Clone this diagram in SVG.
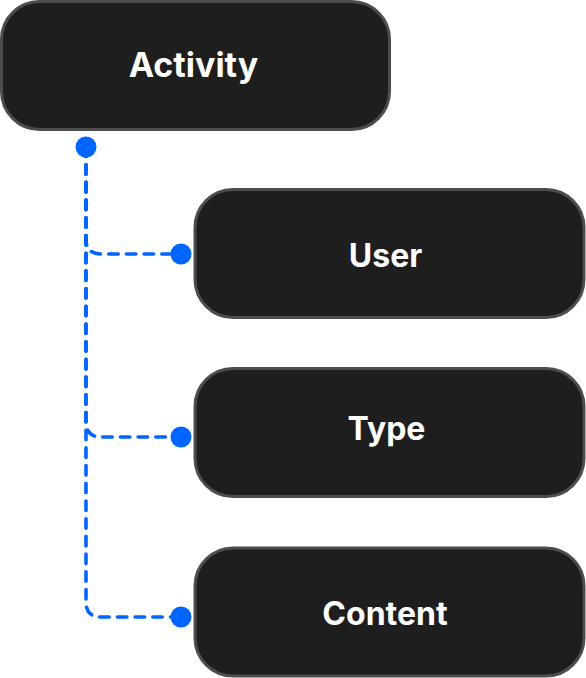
<svg xmlns="http://www.w3.org/2000/svg" width="586" height="678" viewBox="0 0 586 678">
  <style>
    .node rect { fill: #1e1e1e; stroke: #4d4d4d; stroke-width: 3; }
    .node text { fill: #ffffff; font-family: Inter, "Liberation Sans", sans-serif; font-weight: 700; font-size: 32px; text-anchor: middle; }
    .edge { fill: none; stroke: #0066ff; stroke-width: 3.6; stroke-linecap: round; stroke-dasharray: 9.5 8.2; }
    .dot { fill: #0066ff; }
  </style>
  <rect width="586" height="678" fill="#ffffff"/>
  <g id="connectors">
    <path class="edge" d="M86,147 L86,239 Q86,254 101,254 L181,254"/>
    <path class="edge" d="M86,147 L86,422 Q86,437 101,437 L181,437"/>
    <path class="edge" d="M86,147 L86,602 Q86,617 101,617 L181,617"/>
    <circle class="dot" cx="86" cy="147" r="10.5"/>
    <circle class="dot" cx="181" cy="254" r="10.5"/>
    <circle class="dot" cx="181" cy="437" r="10.5"/>
    <circle class="dot" cx="181" cy="617" r="10.5"/>
  </g>
  <g id="node-activity" class="node">
    <rect x="1.5" y="1.5" width="388" height="128" rx="38" ry="38"/>
    <text x="193.5" y="77" style="font-size:34px">Activity</text>
  </g>
  <g id="node-user" class="node">
    <rect x="195" y="189.5" width="389" height="128" rx="38" ry="38"/>
    <text x="385.5" y="267">User</text>
  </g>
  <g id="node-type" class="node">
    <rect x="195" y="368.5" width="389" height="128" rx="38" ry="38"/>
    <text x="386.5" y="440">Type</text>
  </g>
  <g id="node-content" class="node">
    <rect x="195" y="548" width="389" height="128" rx="38" ry="38"/>
    <text x="385" y="625">Content</text>
  </g>
</svg>
